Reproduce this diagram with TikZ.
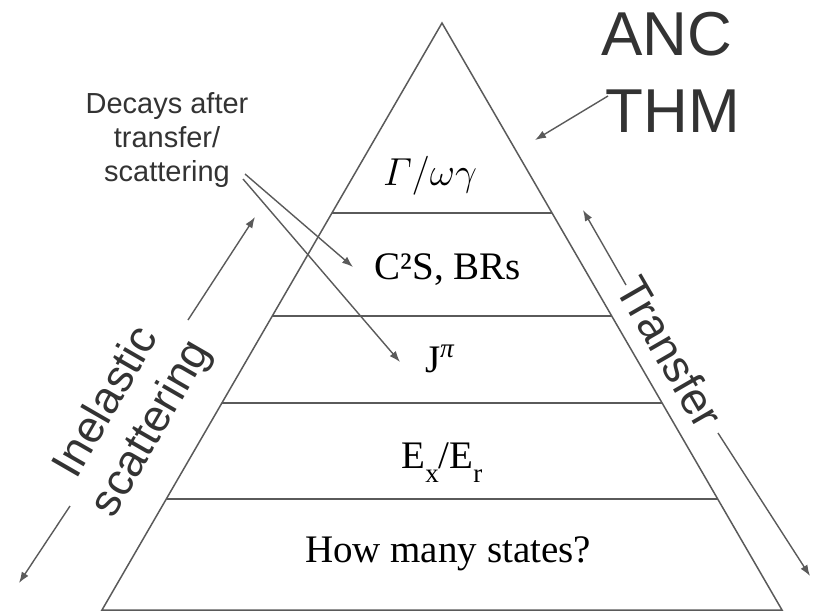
\RequirePackage{fix-cm}
\documentclass[tikz,border=0pt]{standalone}
\usepackage{amsmath}
\usepackage{fontspec}
\setmainfont{Liberation Serif}
\setsansfont{Liberation Sans}
\usetikzlibrary{arrows.meta}

\definecolor{linegray}{HTML}{5A5A5A}
\definecolor{textgray}{HTML}{333333}

\newcommand{\lowsub}[1]{\raisebox{-14pt}{\fontsize{27}{30}\selectfont #1}}

\tikzset{
  layer/.style={font=\fontsize{39}{44}\selectfont, inner sep=0pt, anchor=base},
  side/.style={font=\sffamily\fontsize{45}{52}\selectfont, text=textgray, align=center, inner sep=0pt},
  pointer/.style={->, linegray, line width=1.4pt},
}

\begin{document}
\begin{tikzpicture}[x=1pt, y=-1pt, >={Latex[length=11pt,width=8pt]}]
  \useasboundingbox (0,0) rectangle (815,613);

  % Pyramid
  \coordinate (top) at (442,23);
  \coordinate (bl) at (102,610);
  \coordinate (br) at (782,610);
  \draw[linegray, line width=1.5pt] (bl) -- (top) -- (br) -- cycle;

  % Layer boundaries
  \foreach \y in {213,316,403,499}
    \draw[linegray, line width=1.8pt] ({442-0.579*(\y-23)},\y) -- ({442+0.579*(\y-23)},\y);

  % Layer labels
  \node[layer] (width) at (430,185) {$\varGamma/\omega\gamma$};
  \node[layer] (anc) at (448,279) {C²S, BRs};
  \node[layer] (spin) at (440,372) {J\textsuperscript{\textit{π}}};
  \node[layer] (energy) at (442,468) {E\lowsub{x}/E\lowsub{r}};
  \node[layer] (states) at (448,562) {How many states?};

  % Side labels
  \node[side, font=\sffamily\fontsize{62}{77}\selectfont, anchor=base] (ancthm) at (667,55) {ANC};
  \node[side, font=\sffamily\fontsize{62}{77}\selectfont, anchor=base] (thm) at (673,132) {THM};
  \node[side, rotate=60] (inelastic) at (130,416) {Inelastic\\scattering};
  \node[side, rotate=-60] (transfer) at (670,352) {Transfer};
  \node[side, font=\sffamily\fontsize{29}{34}\selectfont, anchor=north] (decays) at (167,92)
    {Decays after\\transfer/\\scattering};

  % Arrow ends
  \coordinate (inup-a) at (188,320);
  \coordinate (inup-b) at (255,217);
  \coordinate (indown-a) at (70,506);
  \coordinate (indown-b) at (19,583);
  \coordinate (trup-a) at (626,285);
  \coordinate (trup-b) at (583,210);
  \coordinate (trdown-a) at (718,433);
  \coordinate (trdown-b) at (810,576);
  \coordinate (thm-a) at (608,96);
  \coordinate (thm-b) at (535,140);
  \coordinate (dec-a) at (245,174);
  \coordinate (dec-b) at (353,267);
  \coordinate (dec-c) at (243,179);
  \coordinate (dec-d) at (400,362);

  % Arrows
  \draw[pointer] (inup-a) -- (inup-b);
  \draw[pointer] (indown-a) -- (indown-b);
  \draw[pointer] (trup-a) -- (trup-b);
  \draw[pointer] (trdown-a) -- (trdown-b);
  \draw[pointer] (thm-a) -- (thm-b);
  \draw[pointer] (dec-a) -- (dec-b);
  \draw[pointer] (dec-c) -- (dec-d);
\end{tikzpicture}
\end{document}
